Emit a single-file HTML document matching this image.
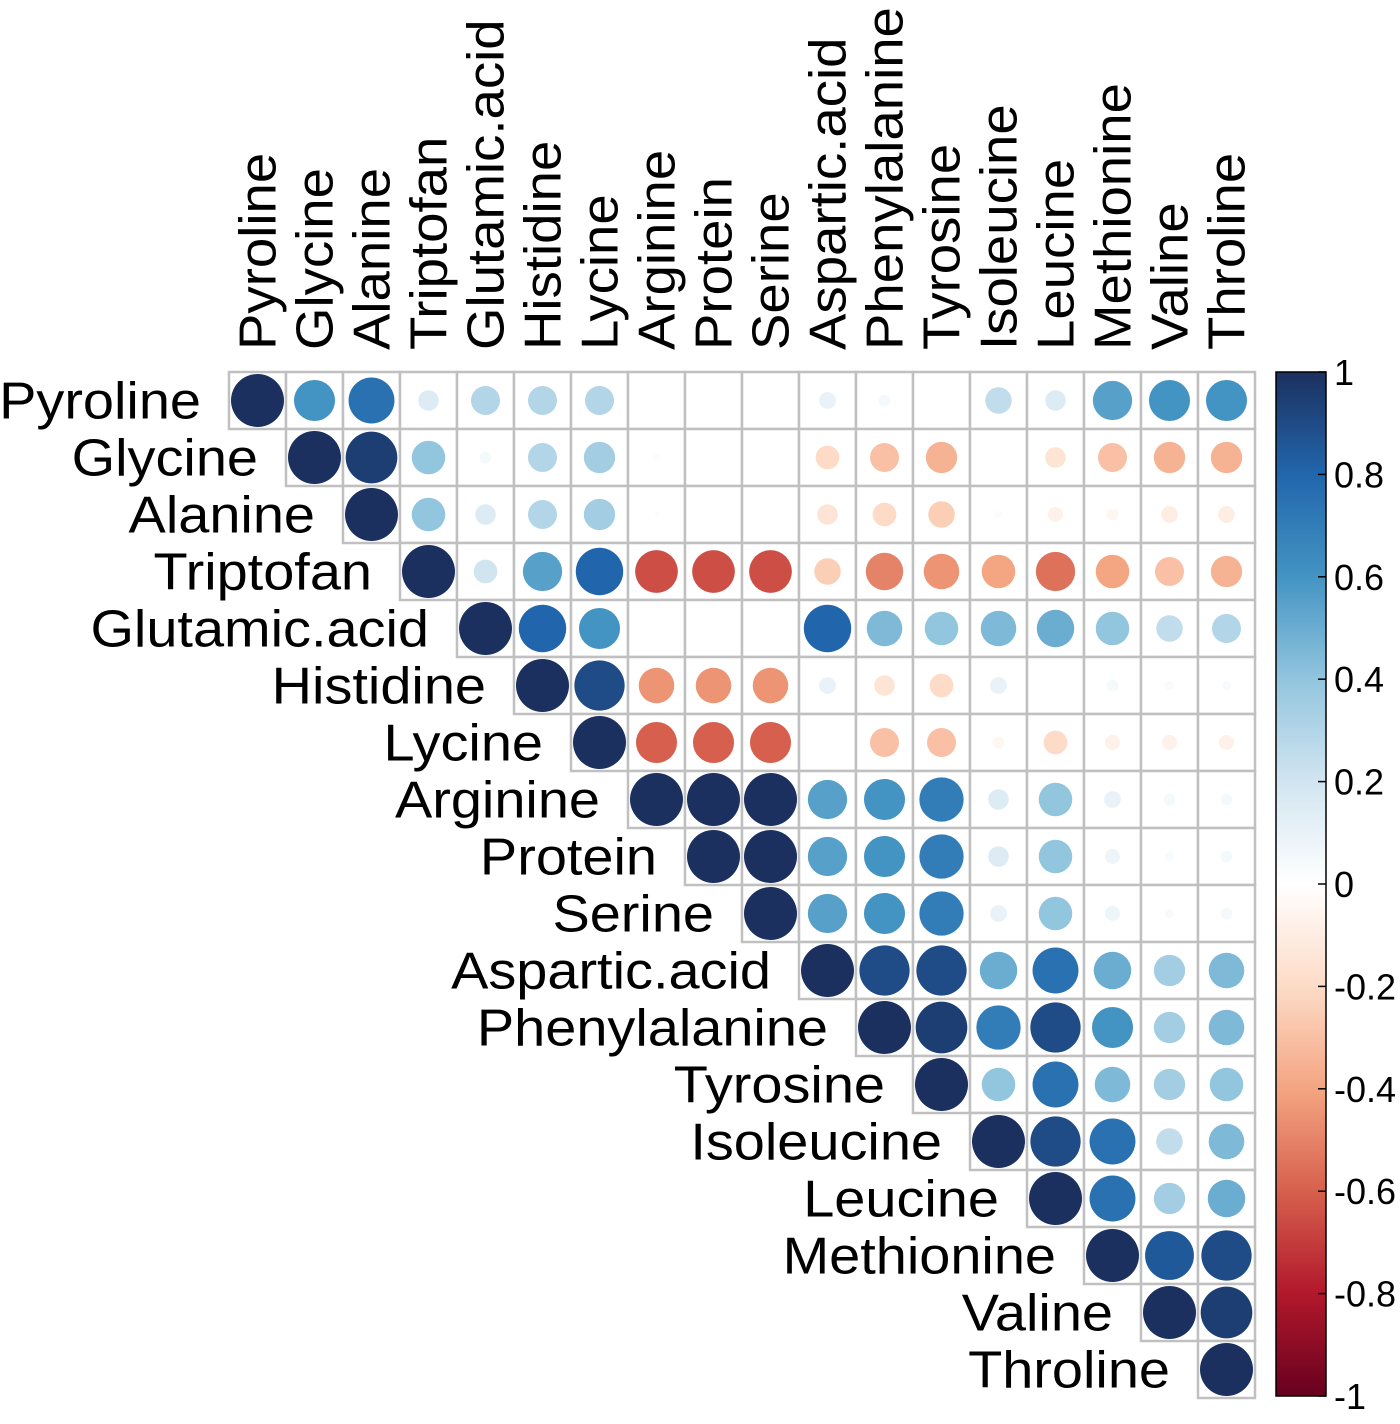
<!DOCTYPE html>
<html><head><meta charset="utf-8">
<style>
html,body{margin:0;padding:0;background:#fff;}
svg{display:block;font-family:"Liberation Sans",Arial,sans-serif;}
</style></head>
<body>
<svg id="chart" width="1400" height="1424" viewBox="0 0 1400 1424" xmlns="http://www.w3.org/2000/svg"></svg>
<script>
const variables = ["Pyroline","Glycine","Alanine","Triptofan","Glutamic.acid","Histidine","Lycine","Arginine","Protein","Serine","Aspartic.acid","Phenylalanine","Tyrosine","Isoleucine","Leucine","Methionine","Valine","Throline"];
// upper-triangle rows: row i holds values for columns i..17
const row0 = [1,0.6,0.75,0.15,0.3,0.3,0.3,0.0,0.0,0.0,0.1,0.05,0.0,0.25,0.15,0.55,0.6,0.6];
const row1 = [1,0.95,0.4,0.05,0.3,0.35,-0.02,0,0,-0.2,-0.3,-0.35,0,-0.15,-0.3,-0.35,-0.35];
const row2 = [1,0.4,0.15,0.3,0.35,-0.01,0,0,-0.15,-0.2,-0.25,0.02,-0.08,-0.05,-0.1,-0.1];
const row3 = [1,0.2,0.55,0.8,-0.65,-0.65,-0.65,-0.25,-0.5,-0.45,-0.4,-0.55,-0.4,-0.3,-0.35];
const row4 = [1,0.8,0.6,0,0,0,0.8,0.45,0.4,0.45,0.5,0.4,0.25,0.3];
const row5 = [1,0.9,-0.45,-0.45,-0.45,0.1,-0.15,-0.2,0.1,0,0.05,0.03,0.03];
const row6 = [1,-0.6,-0.6,-0.6,0,-0.3,-0.3,-0.05,-0.2,-0.08,-0.08,-0.08];
const row7 = [1,1,1,0.55,0.6,0.7,0.15,0.4,0.1,0.05,0.05];
const row8 = [1,1,0.55,0.6,0.7,0.15,0.4,0.08,0.03,0.05];
const row9 = [1,0.55,0.6,0.7,0.1,0.4,0.08,0.03,0.05];
const row10 = [1,0.9,0.9,0.5,0.75,0.5,0.35,0.45];
const row11 = [1,0.95,0.7,0.9,0.6,0.35,0.45];
const row12 = [1,0.4,0.75,0.45,0.35,0.4];
const row13 = [1,0.9,0.75,0.25,0.45];
const row14 = [1,0.75,0.35,0.5];
const row15 = [1,0.85,0.9];
const row16 = [1,0.95];
const row17 = [1];
const rows = [row0,row1,row2,row3,row4,row5,row6,row7,row8,row9,row10,row11,row12,row13,row14,row15,row16,row17];
const colorTicks = ["1","0.8","0.6","0.4","0.2","0","-0.2","-0.4","-0.6","-0.8","-1"];

const NS="http://www.w3.org/2000/svg";
const svg=document.getElementById('chart');
const left=229, top0=372, cell=57;
const xc=j=>left+cell*j+cell/2;
const yc=i=>top0+cell*i+cell/2;
const stops=[[-1,[103,0,31]],[-0.8,[178,24,43]],[-0.6,[214,96,77]],[-0.4,[244,165,130]],[-0.2,[253,219,199]],[0,[255,255,255]],[0.2,[209,229,240]],[0.4,[146,197,222]],[0.6,[67,147,195]],[0.8,[33,102,172]],[1,[28,48,95]]];
function col(v){
  v=Math.max(-1,Math.min(1,v));
  for(let k=0;k<stops.length-1;k++){
    const a=stops[k],b=stops[k+1];
    if(v>=a[0]&&v<=b[0]){const t=(v-a[0])/(b[0]-a[0]);
      const c=a[1].map((x,m)=>Math.round(x+(b[1][m]-x)*t));return `rgb(${c})`;}
  }
  return 'rgb(28,48,95)';
}
function mk(tag,attrs){const e=document.createElementNS(NS,tag);for(const k in attrs)e.setAttribute(k,attrs[k]);svg.appendChild(e);return e;}

for(let i=0;i<18;i++){
  for(let j=i;j<18;j++){
    const r=mk('rect',{x:left+cell*j,y:top0+cell*i,width:cell,height:cell,fill:'#fff',stroke:'#c0c0c0','stroke-width':2.5});
    
    
  }
}
for(let i=0;i<18;i++){
  rows[i].forEach((v,k)=>{
    const j=i+k;
    const rad=Math.sqrt(Math.abs(v))*26.5;
    if(rad<0.5)return;
    const c=mk('circle',{cx:xc(j),cy:yc(i),r:rad,fill:col(v)});
    
    
  });
}
variables.forEach((n,i)=>{
  const x=left+cell*i-28, y=yc(i)+18;
  const t=mk('text',{x:x,y:y,'text-anchor':'end','font-size':52,fill:'#000',transform:`translate(${x} ${y}) scale(1.075 1) translate(${-x} ${-y})`});
  t.textContent=n;
  
  
});
variables.forEach((n,j)=>{
  const x=xc(j)+18,y=350;
  const t=mk('text',{x:x,y:y,transform:`rotate(-90 ${x} ${y}) translate(${x} ${y}) scale(1.05 1) translate(${-x} ${-y})`,'font-size':52,fill:'#000'});
  t.textContent=n;
  
  
});
const defs=mk('defs',{});
const g=document.createElementNS(NS,'linearGradient');
g.setAttribute('id','cb');g.setAttribute('x1','0');g.setAttribute('y1','0');g.setAttribute('x2','0');g.setAttribute('y2','1');
defs.appendChild(g);
for(let k=0;k<=40;k++){const v=1-k/20;const s=document.createElementNS(NS,'stop');s.setAttribute('offset',(k/40));s.setAttribute('stop-color',col(v));g.appendChild(s);}
const cbTop=372, cbBot=1396, cbX=1276, cbW=50;
const cb=mk('rect',{x:cbX,y:cbTop,width:cbW,height:cbBot-cbTop,fill:'url(#cb)',stroke:'#000','stroke-width':1.5});


colorTicks.forEach((lab,k)=>{
  const v=parseFloat(lab);
  const y=cbTop+(1-v)/2*(cbBot-cbTop);
  const tk=mk('line',{x1:cbX+cbW-8,x2:cbX+cbW,y1:y,y2:y,stroke:'#000','stroke-width':1.5});
  
  
  const t=mk('text',{x:cbX+cbW+8,y:y+13,'font-size':36,fill:'#000'});
  t.textContent=lab;
  
  
});
</script>
</body></html>
